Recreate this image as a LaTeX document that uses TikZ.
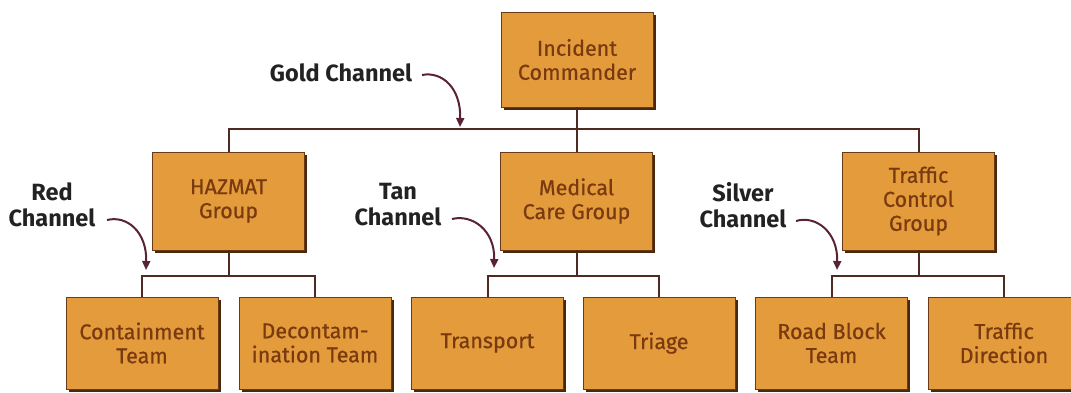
\documentclass[tikz,border=0pt]{standalone}
\usepackage{fontspec}
\setmainfont{Fira Sans}
\newfontfamily\boxfont{Fira Sans}[FakeBold=0.6]
\usetikzlibrary{arrows.meta,shadows}
\definecolor{boxfill}{HTML}{E39B3B}
\definecolor{boxline}{HTML}{6B3A17}
\definecolor{boxshadow}{HTML}{4A2810}
\definecolor{boxtext}{HTML}{7A3A10}
\definecolor{conn}{HTML}{4F2A22}
\definecolor{arr}{HTML}{5A2333}
\definecolor{lbl}{HTML}{222222}
\tikzset{
  org/.style={draw=boxline, line width=0.8pt, fill=boxfill, text=boxtext,
    font=\boxfont\fontsize{21.5}{24}\selectfont, align=center, inner sep=0pt,
    minimum width=152pt,
    drop shadow={shadow xshift=2.5pt, shadow yshift=-2.5pt, opacity=1, fill=boxshadow}},
  top/.style={org, minimum height=95pt},
  mid/.style={org, minimum height=98pt},
  low/.style={org, minimum height=92pt},
  link/.style={draw=conn, line width=2pt},
  chan/.style={text=lbl, font=\bfseries\fontsize{23.5}{26}\selectfont, align=center, inner sep=0pt},
  pointer/.style={draw=arr, line width=2pt, -{Triangle[width=8pt,length=9pt]}},
}
\begin{document}
\begin{tikzpicture}[x=1pt,y=-1pt]
\useasboundingbox (0,0) rectangle (1071,392);
\fill[white] (0,0) rectangle (1071,392);
% boxes
\node[top] (ic) at (577,59.5) {Incident\\Commander};
\node[mid] (hz) at (228.5,201) {HAZMAT\\Group};
\node[mid] (mc) at (576.5,201) {Medical\\Care Group};
\node[mid] (tc) at (918.5,201) {Traffic\\Control\\Group};
\node[low] (ct) at (142,343) {Containment\\Team};
\node[low] (dt) at (315,343) {Decontam-\\ination Team};
\node[low] (tr) at (487.5,343) {Transport};
\node[low] (tg) at (659,343) {Triage};
\node[low] (rb) at (831.5,343) {Road Block\\Team};
\node[low] (td) at (1004,343) {Traffic\\Direction};
% buses
\coordinate (bus) at (0,129);
\coordinate (sub) at (0,276);
\draw[link] (ic.south) -- (ic.south |- bus);
\draw[link] (hz.north) |- (tc.north |- bus) -- (tc.north);
\draw[link] (mc.north) -- (mc.north |- bus);
\draw[link] (hz.south) -- (hz.south |- sub);
\draw[link] (ct.north) |- (dt.north |- sub) -- (dt.north);
\draw[link] (mc.south) -- (mc.south |- sub);
\draw[link] (tr.north) |- (tg.north |- sub) -- (tg.north);
\draw[link] (tc.south) -- (tc.south |- sub);
\draw[link] (rb.north) |- (td.north |- sub) -- (td.north);
% channel labels
\node[chan] (gold) at (341,73) {Gold Channel};
\node[chan] (red) at (52,205) {Red\\Channel};
\node[chan] (tan) at (398,205) {Tan\\Channel};
\node[chan] (silver) at (743,205) {Silver\\Channel};
\coordinate (goldA) at (422,75);
\coordinate (goldB) at (460,127);
\coordinate (redA) at (107,220);
\coordinate (redB) at (146,270);
\coordinate (tanA) at (452,219);
\coordinate (tanB) at (494,268);
\coordinate (silverA) at (796,221);
\coordinate (silverB) at (837,270);
\draw[pointer] (goldA) .. controls (442,71) and (461,88) .. (goldB);
\draw[pointer] (redA) .. controls (127,215) and (147,232) .. (redB);
\draw[pointer] (tanA) .. controls (472,214) and (495,230) .. (tanB);
\draw[pointer] (silverA) .. controls (816,215) and (838,232) .. (silverB);
\end{tikzpicture}
\end{document}
